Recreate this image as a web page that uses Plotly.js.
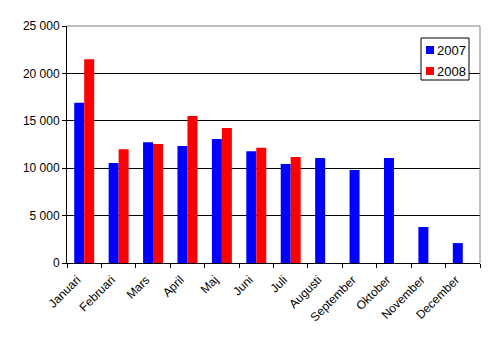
<!DOCTYPE html>
<html>
<head>
<meta charset="utf-8">
<script src="https://cdn.plot.ly/plotly-3.0.1.min.js"></script>
<style>html,body{margin:0;padding:0;background:#fff;}#chart{width:495px;height:338px;}</style>
</head>
<body>
<div id="chart"></div>
<script>
var months = ["Januari","Februari","Mars","April","Maj","Juni","Juli","Augusti","September","Oktober","November","December"];
var values2007 = [16900, 10550, 12750, 12350, 13080, 11800, 10450, 11080, 9810, 11080, 3800, 2100];
var months2008 = ["Januari","Februari","Mars","April","Maj","Juni","Juli"];
var values2008 = [21500, 12000, 12550, 15500, 14250, 12150, 11180];
var yTicks = [0, 5000, 10000, 15000, 20000, 25000];
var seriesNames = ["2007", "2008"];
var seriesColors = ["#0000FF", "#FF0000"];

var traces = [
  {type:"bar", name:seriesNames[0], x:months, y:values2007, marker:{color:seriesColors[0], line:{width:0}}},
  {type:"bar", name:seriesNames[1], x:months2008, y:values2008, marker:{color:seriesColors[1], line:{width:0}}}
];

// plot area in pixels: x 67..480, y 26..263
var L = 67, R = 480, T = 26, B = 263;
function px(x){ return (x - L) / (R - L); }
function py(y){ return 1 - (y - T) / (B - T); }

var shapes = [
  {type:"line", xref:"paper", yref:"paper", x0:0, x1:1, y0:1, y1:1, line:{color:"#808080", width:1}},
  {type:"line", xref:"paper", yref:"paper", x0:1, x1:1, y0:0, y1:1, line:{color:"#808080", width:1}},
  {type:"rect", xref:"paper", yref:"paper", x0:px(421), x1:px(469), y0:py(80), y1:py(38),
   line:{color:"#000", width:1}, fillcolor:"#fff"}
];
var annotations = [];
var rowY = [50, 71];
for (var i = 0; i < seriesNames.length; i++) {
  shapes.push({type:"rect", xref:"paper", yref:"paper", x0:px(426), x1:px(434), y0:py(rowY[i]+4), y1:py(rowY[i]-4),
               line:{width:0}, fillcolor:seriesColors[i]});
  annotations.push({xref:"paper", yref:"paper", x:px(435), y:py(rowY[i]), text:seriesNames[i], showarrow:false,
                    xanchor:"left", yanchor:"middle", font:{size:13, color:"#000"}});
}

var layout = {
  width:495, height:338,
  margin:{l:L, r:495-R, t:T, b:338-B},
  paper_bgcolor:"#fff", plot_bgcolor:"#fff",
  font:{family:"Liberation Sans, Arial, sans-serif", color:"#000", size:12},
  separators:", ",
  barmode:"group", bargap:0.42, bargroupgap:0,
  showlegend:false,
  xaxis:{type:"category", categoryorder:"array", categoryarray:months, tickangle:-45,
         tickfont:{size:12}, showline:true, linecolor:"#000", linewidth:1,
         ticks:"outside", tickson:"boundaries", ticklen:4, tickcolor:"#000", showgrid:false, automargin:false,
         ticklabelshift:-7, ticklabelstandoff:4},
  yaxis:{range:[0,25000], tickvals:yTicks, tickformat:",d", showgrid:true, gridcolor:"#000", gridwidth:1,
         showline:true, linecolor:"#000", linewidth:1, ticks:"outside", ticklen:4, tickcolor:"#000",
         tickfont:{size:12}, zeroline:false, automargin:false},
  shapes:shapes,
  annotations:annotations
};

Plotly.newPlot("chart", traces, layout, {displayModeBar:false, staticPlot:true});
</script>
</body>
</html>
